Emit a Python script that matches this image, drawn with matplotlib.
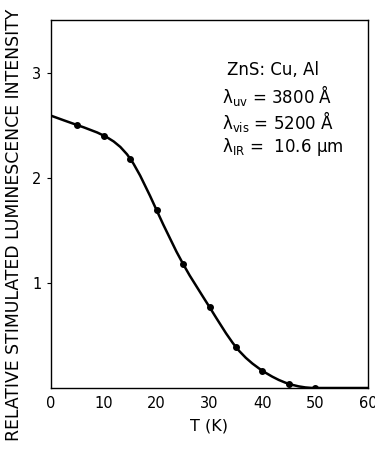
import numpy as np
import matplotlib
matplotlib.use("Agg")
import matplotlib.pyplot as plt
from matplotlib.path import Path
from matplotlib.patches import PathPatch

# Data
T = [0, 5, 10, 15, 20, 25, 30, 35, 40, 45, 50, 60]
I = [2.59, 2.50, 2.40, 2.18, 1.69, 1.18, 0.77, 0.39, 0.165, 0.04, 0.0, 0.0]
marker_T = T[1:-1]
marker_I = I[1:-1]
xticks = [0, 10, 20, 30, 40, 50, 60]
yticks = [1, 2, 3]

plt.rcParams['font.family'] = ['DejaVu Sans']
fig = plt.figure(figsize=(3.75, 4.49), dpi=100)
ax = fig.add_axes([51/375, 1-388/449, (368-51)/375, (388-20)/449])

# smooth curve: natural cubic spline slopes -> cubic Bezier path (data coordinates)
x = np.array(T, float); y = np.array(I, float)
n = len(x)
h = np.diff(x)
A = np.zeros((n, n)); b = np.zeros(n)
A[0, 0] = 2; A[0, 1] = 1; b[0] = 3*(y[1]-y[0])/h[0]
A[-1, -2] = 1; A[-1, -1] = 2; b[-1] = 3*(y[-1]-y[-2])/h[-1]
for i in range(1, n-1):
    A[i, i-1] = 1/h[i-1]
    A[i, i] = 2*(1/h[i-1] + 1/h[i])
    A[i, i+1] = 1/h[i]
    b[i] = 3*((y[i]-y[i-1])/h[i-1]**2 + (y[i+1]-y[i])/h[i]**2)
m = np.linalg.solve(A, b)
m[-2:] = 0.0
verts = [(x[0], y[0])]
codes = [Path.MOVETO]
for i in range(n - 1):
    c1 = (x[i] + h[i]/3, y[i] + m[i]*h[i]/3)
    c2 = (x[i+1] - h[i]/3, y[i+1] - m[i+1]*h[i]/3)
    verts += [c1, c2, (x[i+1], y[i+1])]
    codes += [Path.CURVE4]*3
ax.add_patch(PathPatch(Path(verts, codes), fill=False, lw=1.8, color='black'))
ax.plot(marker_T, marker_I, 'o', color='black', ms=4)

ax.set_xlim(0, 60)
ax.set_ylim(0, 3.5)
ax.set_xticks(xticks)
ax.set_yticks(yticks)
ax.tick_params(axis='x', length=0, pad=6, labelsize=10.5)
ax.tick_params(axis='y', length=3, direction='out', pad=4, labelsize=10.5)
for s in ax.spines.values():
    s.set_linewidth(1.0)

ax.set_xlabel('T (K)', fontsize=11.5, labelpad=5)
fig.text(14/375, 0.5, 'RELATIVE STIMULATED LUMINESCENCE INTENSITY',
         rotation=90, ha='center', va='center', fontsize=12.4)

tx = 0.54
fs = 12
ax.text(tx + 0.015, 0.863, 'ZnS: Cu, Al', transform=ax.transAxes, fontsize=fs, ha='left', va='center')
ax.text(tx, 0.795, r'λ$_{\mathrm{uv}}$ = 3800 Å', transform=ax.transAxes, fontsize=fs, ha='left', va='center')
ax.text(tx, 0.725, r'λ$_{\mathrm{vis}}$ = 5200 Å', transform=ax.transAxes, fontsize=fs, ha='left', va='center')
ax.text(tx, 0.655, r'λ$_{\mathrm{IR}}$ =  10.6 μm', transform=ax.transAxes, fontsize=fs, ha='left', va='center')

fig.savefig('out.png', dpi=100)
